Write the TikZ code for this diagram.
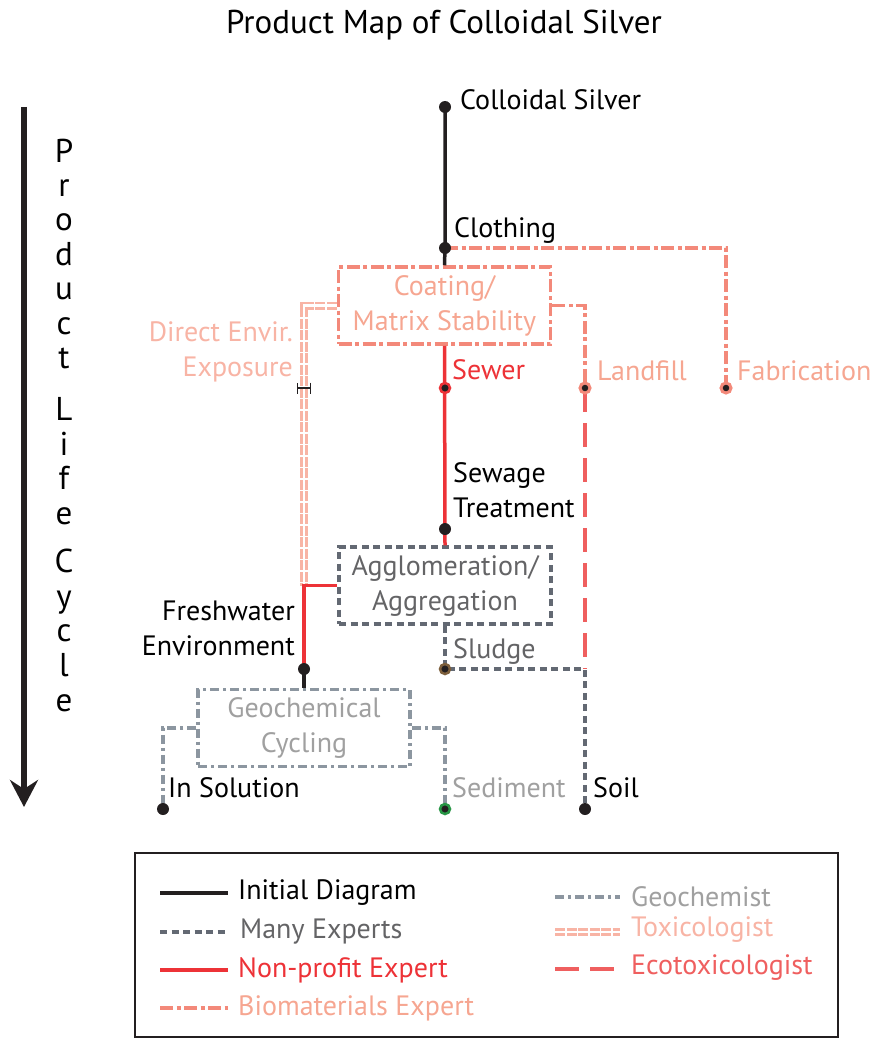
\documentclass[tikz,border=0pt]{standalone}
\usepackage{fontspec}
\setmainfont{PT Sans}
\usetikzlibrary{arrows.meta}

\definecolor{inkblack}{RGB}{35,31,32}
\definecolor{nonprofit}{RGB}{237,50,55}
\definecolor{biomatline}{RGB}{243,137,122}
\definecolor{biomattext}{RGB}{246,166,145}
\definecolor{toxicline}{RGB}{248,180,165}
\definecolor{ecotoxline}{RGB}{239,95,95}
\definecolor{manygray}{RGB}{99,105,115}
\definecolor{geogray}{RGB}{140,150,160}
\definecolor{geotext}{RGB}{160,160,160}
\definecolor{stagetext}{RGB}{100,100,102}
\definecolor{sludgering}{RGB}{125,95,60}
\definecolor{sedimentring}{RGB}{40,150,70}

\tikzset{
    lbl/.style={font=\fontsize{28}{35}\selectfont, inner sep=0pt},
    stagebox/.style={lbl, minimum width=212pt, minimum height=77pt, line width=3.5pt, align=center},
    initial/.style={inkblack, line width=3.5pt},
    many/.style={manygray, line width=3.5pt, dash pattern=on 7pt off 4.5pt},
    nonprofitline/.style={nonprofit, line width=3.5pt},
    biomat/.style={biomatline, line width=3.5pt, dash pattern=on 13pt off 3.5pt on 4pt off 3.5pt},
    geochem/.style={geogray, line width=3.5pt, dash pattern=on 9pt off 4pt on 3pt off 4pt},
    toxic/.style={toxicline, line width=2.8pt, double=white, double distance=2.4pt, dash pattern=on 10pt off 1.5pt},
    ecotox/.style={ecotoxline, line width=4.5pt, dash pattern=on 24pt off 11pt},
}

\begin{document}
\begin{tikzpicture}[x=1pt, y=-1pt]
    \useasboundingbox (0,0) rectangle (873,1038);

    % Title
    \node[font=\fontsize{33}{40}\selectfont, anchor=base] (title) at (444,34) {Product Map of Colloidal Silver};

    % Product life cycle arrow
    \coordinate (lifetop) at (24,107);
    \coordinate (lifeend) at (24,807);
    \draw[inkblack, line width=6pt, -{Stealth[length=27pt, width=28pt, inset=9pt]}] (lifetop) -- (lifeend);
    \foreach \ch/\yy in {P/162, r/196, o/230, d/265, u/299, c/334, t/368,
                         L/420, i/455, f/489, e/524,
                         C/572, y/607, c/641, l/676, e/711} {
        \node[font=\fontsize{33}{40}\selectfont, inner sep=0pt, anchor=base] at (64,\yy) {\ch};
    }

    % Stages
    \coordinate (silver) at (445,107);
    \coordinate (clothing) at (445,248);
    \coordinate (sewer) at (445,388);
    \coordinate (landfill) at (585,388);
    \coordinate (fabric) at (726,388);
    \coordinate (direct) at (304,388);
    \coordinate (sewage) at (445,529);
    \coordinate (fresh) at (304,669);
    \coordinate (sludge) at (445,669);
    \coordinate (solution) at (163,809);
    \coordinate (sediment) at (445,809);
    \coordinate (soil) at (585,809);

    % Boxes
    \node[stagebox, draw=biomatline, text=biomattext, dash pattern=on 13pt off 3.5pt on 4pt off 3.5pt] (coat) at (444.5,305.5) {Coating/\\Matrix Stability};
    \node[stagebox, draw=manygray, text=stagetext, dash pattern=on 7pt off 4.5pt] (agg) at (445,585.5) {Agglomeration/\\Aggregation};
    \node[stagebox, draw=geogray, text=geotext, dash pattern=on 9pt off 4pt on 3pt off 4pt] (geo) at (304,728) {Geochemical\\Cycling};

    % Connectors
    \draw[initial] (silver) -- (clothing) -- (coat.north);
    \draw[biomat] (clothing) -| (fabric);
    \draw[biomat] (coat.east) -| (landfill);
    \draw[toxic] (coat.west) -| (agg.west -| fresh);
    \draw[nonprofitline] (coat.south) -- (agg.north);
    \draw[nonprofitline] (agg.west) -| (fresh);
    \draw[initial] (fresh) -- (geo.north);
    \draw[geochem] (geo.west) -| (solution);
    \draw[geochem] (geo.east) -| (sediment);
    \draw[many] (agg.south) -- (sludge) -| (soil);
    \draw[ecotox] (landfill) -- (landfill |- sludge);

    % Dots
    \foreach \p in {silver, clothing, sewage, fresh, solution, soil} {
        \fill[inkblack] (\p) circle (6);
    }
    \filldraw[fill=inkblack, draw=nonprofit, line width=2.5pt] (sewer) circle (5);
    \filldraw[fill=inkblack, draw=biomatline, line width=3pt] (landfill) circle (5);
    \filldraw[fill=inkblack, draw=biomatline, line width=3pt] (fabric) circle (5);
    \filldraw[fill=inkblack, draw=sludgering, line width=2.5pt] (sludge) circle (5);
    \filldraw[fill=inkblack, draw=sedimentring, line width=2.5pt] (sediment) circle (5);
    \draw[inkblack, line width=1.2pt, {Bar[width=11pt]}-{Bar[width=11pt]}] ([xshift=-7pt]direct) -- ([xshift=7pt]direct);

    % Labels
    \node[lbl, anchor=base west] (silverlbl) at (460,110) {Colloidal Silver};
    \node[lbl, anchor=base west] (clothinglbl) at (454,237) {Clothing};
    \node[lbl, anchor=base west, text=nonprofit] (sewerlbl) at (452,379) {Sewer};
    \node[lbl, anchor=base west, text=biomattext] (landfilllbl) at (597,380) {Landfill};
    \node[lbl, anchor=base west, text=biomattext] (fabriclbl) at (737,380) {Fabrication};
    \node[lbl, anchor=base east, align=right, text=toxicline] (directlbl) at (293,376) {Direct Envir.\\Exposure};
    \node[lbl, anchor=base west, align=left] (sewagelbl) at (453,517) {Sewage\\Treatment};
    \node[lbl, anchor=base east, align=right] (freshlbl) at (295,655) {Freshwater\\Environment};
    \node[lbl, anchor=base west, text=stagetext] (sludgelbl) at (453,658) {Sludge};
    \node[lbl, anchor=base west] (solutionlbl) at (168,797) {In Solution};
    \node[lbl, anchor=base west, text=geotext] (sedimentlbl) at (452,797) {Sediment};
    \node[lbl, anchor=base west] (soillbl) at (593,797) {Soil};

    % Legend
    \draw[inkblack, line width=2pt] (135,853) rectangle (838,1037);
    \draw[initial] (160,893) -- (228,893);
    \node[lbl, anchor=west] (leginitial) at (238,893) {Initial Diagram};
    \draw[many] (160,932) -- (228,932);
    \node[lbl, anchor=west, text=stagetext] (legmany) at (240,932) {Many Experts};
    \draw[nonprofitline] (160,970) -- (228,970);
    \node[lbl, anchor=west, text=nonprofit] (legnonprofit) at (238,970) {Non-profit Expert};
    \draw[biomat] (160,1008) -- (228,1008);
    \node[lbl, anchor=west, text=biomattext] (legbiomat) at (238,1008) {Biomaterials Expert};
    \draw[geochem] (555,897) -- (620,897);
    \node[lbl, anchor=west, text=geotext] (leggeo) at (631,897) {Geochemist};
    \draw[toxic] (555,932) -- (620,932);
    \node[lbl, anchor=west, text=toxicline] (legtoxic) at (631,930) {Toxicologist};
    \draw[ecotox] (555,969) -- (620,969);
    \node[lbl, anchor=west, text=ecotoxline] (legecotox) at (631,968) {Ecotoxicologist};

\end{tikzpicture}
\end{document}
